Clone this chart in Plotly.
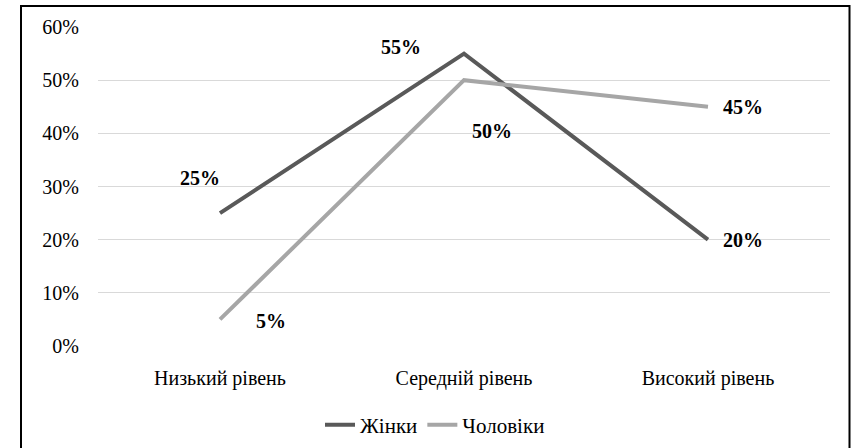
import plotly.graph_objects as go

categories = ["Низький рівень", "Середній рівень", "Високий рівень"]
women = [0.25, 0.55, 0.20]
men = [0.05, 0.50, 0.45]
series_names = ["Жінки", "Чоловіки"]
y_ticks = [0, 0.1, 0.2, 0.3, 0.4, 0.5, 0.6]

W, H = 852, 448
L, R, T, B = 98, 22, 27, 102
pw, ph = W - L - R, H - T - B

def px_x(p):
    return (p - L) / pw

def px_y(p):
    return (H - B - p) / ph

FONT = "Liberation Serif"
DARK = "#595959"
LIGHT = "#a6a6a6"

fig = go.Figure()
fig.add_trace(go.Scatter(x=categories, y=women, mode="lines", name=series_names[0],
                         line=dict(color=DARK, width=4)))
fig.add_trace(go.Scatter(x=categories, y=men, mode="lines", name=series_names[1],
                         line=dict(color=LIGHT, width=4)))

# data label offsets in pixels (style only)
women_offsets = [(-20, 35), (-63, 7), (35, 0)]
men_offsets = [(51, -2), (28, -51), (35, 0)]
for vals, offs in ((women, women_offsets), (men, men_offsets)):
    for c, v, (dx, dy) in zip(categories, vals, offs):
        fig.add_annotation(x=c, y=v, text=f"<b>{round(v*100)}%</b>", showarrow=False,
                           xshift=dx, yshift=dy,
                           font=dict(family=FONT, size=20, color="#000000"))

fig.add_shape(type="rect", xref="paper", yref="paper",
              x0=px_x(21), x1=px_x(849.5), y0=px_y(470), y1=px_y(6),
              line=dict(color="#000000", width=2), fillcolor="rgba(0,0,0,0)", layer="above")

fig.update_layout(
    width=W, height=H,
    margin=dict(l=L, r=R, t=T, b=B, autoexpand=False),
    paper_bgcolor="white", plot_bgcolor="white",
    font=dict(family=FONT, color="#000000"),
    showlegend=True,
    legend=dict(orientation="h", x=(435) / W, xanchor="center", xref="container",
                y=(H - 425) / H, yanchor="middle", yref="container",
                font=dict(family=FONT, size=21, color="#000000"),
                itemwidth=30, tracegroupgap=0),
    xaxis=dict(type="category", showgrid=False, zeroline=False, showline=False,
               tickfont=dict(family=FONT, size=20, color="#000000"),
               ticks="", ticklabelstandoff=18, range=[-0.5, 2.5]),
    yaxis=dict(range=[0, 0.6], tickvals=y_ticks, tickformat=".0%",
               showgrid=True, gridcolor="#d9d9d9", gridwidth=1, zeroline=False,
               showline=False, ticks="", ticklabelstandoff=18,
               tickfont=dict(family=FONT, size=20, color="#000000")),
)

fig.write_html("out.html", config={"displayModeBar": False},
               post_script="document.body.style.margin='0';document.body.style.padding='0';")
